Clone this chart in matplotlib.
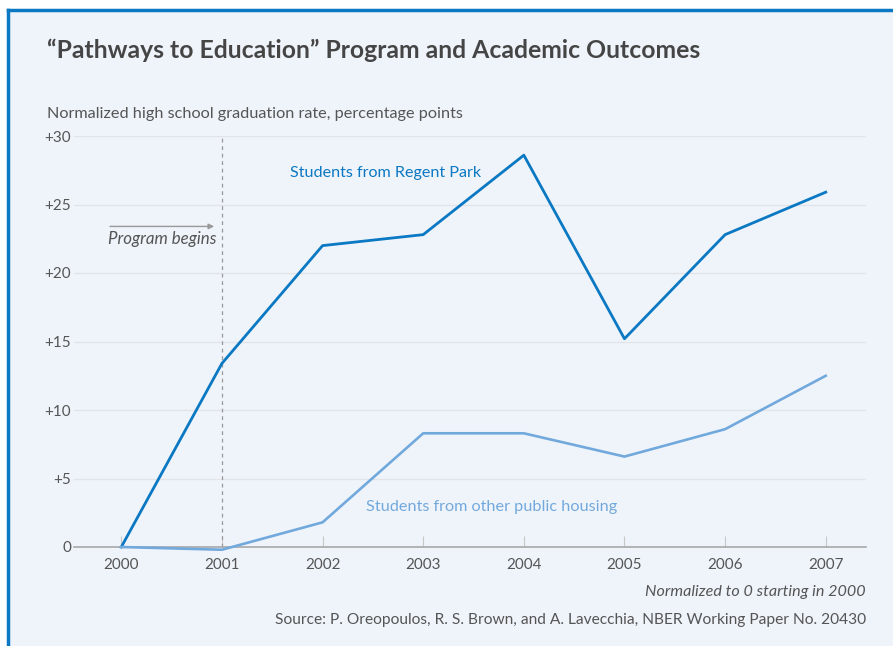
import matplotlib
matplotlib.use("Agg")
import matplotlib.pyplot as plt
from matplotlib.lines import Line2D

# ==========================================================
# Data
# ==========================================================

years = [2000, 2001, 2002, 2003, 2004, 2005, 2006, 2007]
regent_park = [0, 13.4, 22.0, 22.8, 28.6, 15.2, 22.8, 25.9]
other_housing = [0, -0.2, 1.8, 8.3, 8.3, 6.6, 8.6, 12.5]
y_ticks = [0, 5, 10, 15, 20, 25, 30]
y_tick_labels = ["0", "+5", "+10", "+15", "+20", "+25", "+30"]

BG = "#eff4fb"
DARK_BLUE = "#0a78c2"
LIGHT_BLUE = "#72a9dc"
GRAY = "#555555"

plt.rcParams["font.family"] = ["Lato", "DejaVu Sans"]

fig = plt.figure(figsize=(8.93, 6.46), dpi=100)
fig.patch.set_facecolor(BG)

W, H = 893, 646
ax = fig.add_axes([74 / W, 1 - 547 / H, (866 - 74) / W, (547 - 136) / H])
ax.set_facecolor(BG)

ax.plot(years, regent_park, color=DARK_BLUE, lw=2, clip_on=False, zorder=3)
ax.plot(years, other_housing, color=LIGHT_BLUE, lw=1.9, clip_on=False, zorder=3)

ax.set_xlim(1999.53, 2007.4)
ax.set_ylim(0, 30)
ax.set_xticks(years)
ax.set_yticks(y_ticks)
ax.set_yticklabels(y_tick_labels)

ax.grid(axis="y", color="#e2e4e8", lw=1)
ax.set_axisbelow(True)
for side in ["top", "right", "left"]:
    ax.spines[side].set_visible(False)
ax.spines["bottom"].set_color("#a8a8a8")
ax.spines["bottom"].set_linewidth(1.2)

ax.tick_params(axis="x", direction="in", length=8, color="#c8c8c8",
               labelsize=11, labelcolor=GRAY, pad=8)
ax.tick_params(axis="y", length=0, labelsize=11, labelcolor=GRAY, pad=2)

# program start marker
ax.axvline(2001, color="#999999", lw=0.9, ls=(0, (3, 3)), zorder=1)
ax.annotate("", xy=(2000.95, 23.4), xytext=(1999.86, 23.4),
            arrowprops=dict(arrowstyle="-|>", color="#999999", lw=1,
                            mutation_scale=8))
ax.text(2000.95, 22.5, "Program begins", ha="right", va="center",
        style="italic", color=GRAY, fontsize=12.2)

ax.text(2001.68, 27.3, "Students from Regent Park", color=DARK_BLUE,
        fontsize=11.6, va="center")
ax.text(2002.43, 2.95, "Students from other public housing",
        color=LIGHT_BLUE, fontsize=11.7, va="center")

# titles and notes
fig.text(47 / W, 1 - 50 / H, "\u201cPathways to Education\u201d Program and Academic Outcomes",
         fontsize=17.8, fontweight="bold", color="#454545", va="center")
fig.text(47 / W, 1 - 114 / H, "Normalized high school graduation rate, percentage points",
         fontsize=11.7, color=GRAY, va="center")
fig.text(866 / W, 1 - 592 / H, "Normalized to 0 starting in 2000",
         fontsize=11.6, style="italic", color=GRAY, ha="right", va="center")
fig.text(866 / W, 1 - 620 / H,
         "Source: P. Oreopoulos, R. S. Brown, and A. Lavecchia, NBER Working Paper No. 20430",
         fontsize=11.2, color=GRAY, ha="right", va="center")

# frame
fig.add_artist(Line2D([8 / W, 1], [1 - 10 / H, 1 - 10 / H], color=DARK_BLUE, lw=2.5,
                      transform=fig.transFigure))
fig.add_artist(Line2D([8 / W, 8 / W], [0, 1 - 10 / H], color=DARK_BLUE, lw=2.5,
                      transform=fig.transFigure))
white_top = plt.Rectangle((0, 1 - 9 / H), 1, 9 / H, transform=fig.transFigure,
                          color="white", zorder=-1)
white_left = plt.Rectangle((0, 0), 7 / W, 1, transform=fig.transFigure,
                           color="white", zorder=-1)
fig.add_artist(white_top)
fig.add_artist(white_left)

fig.savefig("out.png", dpi=100, facecolor=BG)
